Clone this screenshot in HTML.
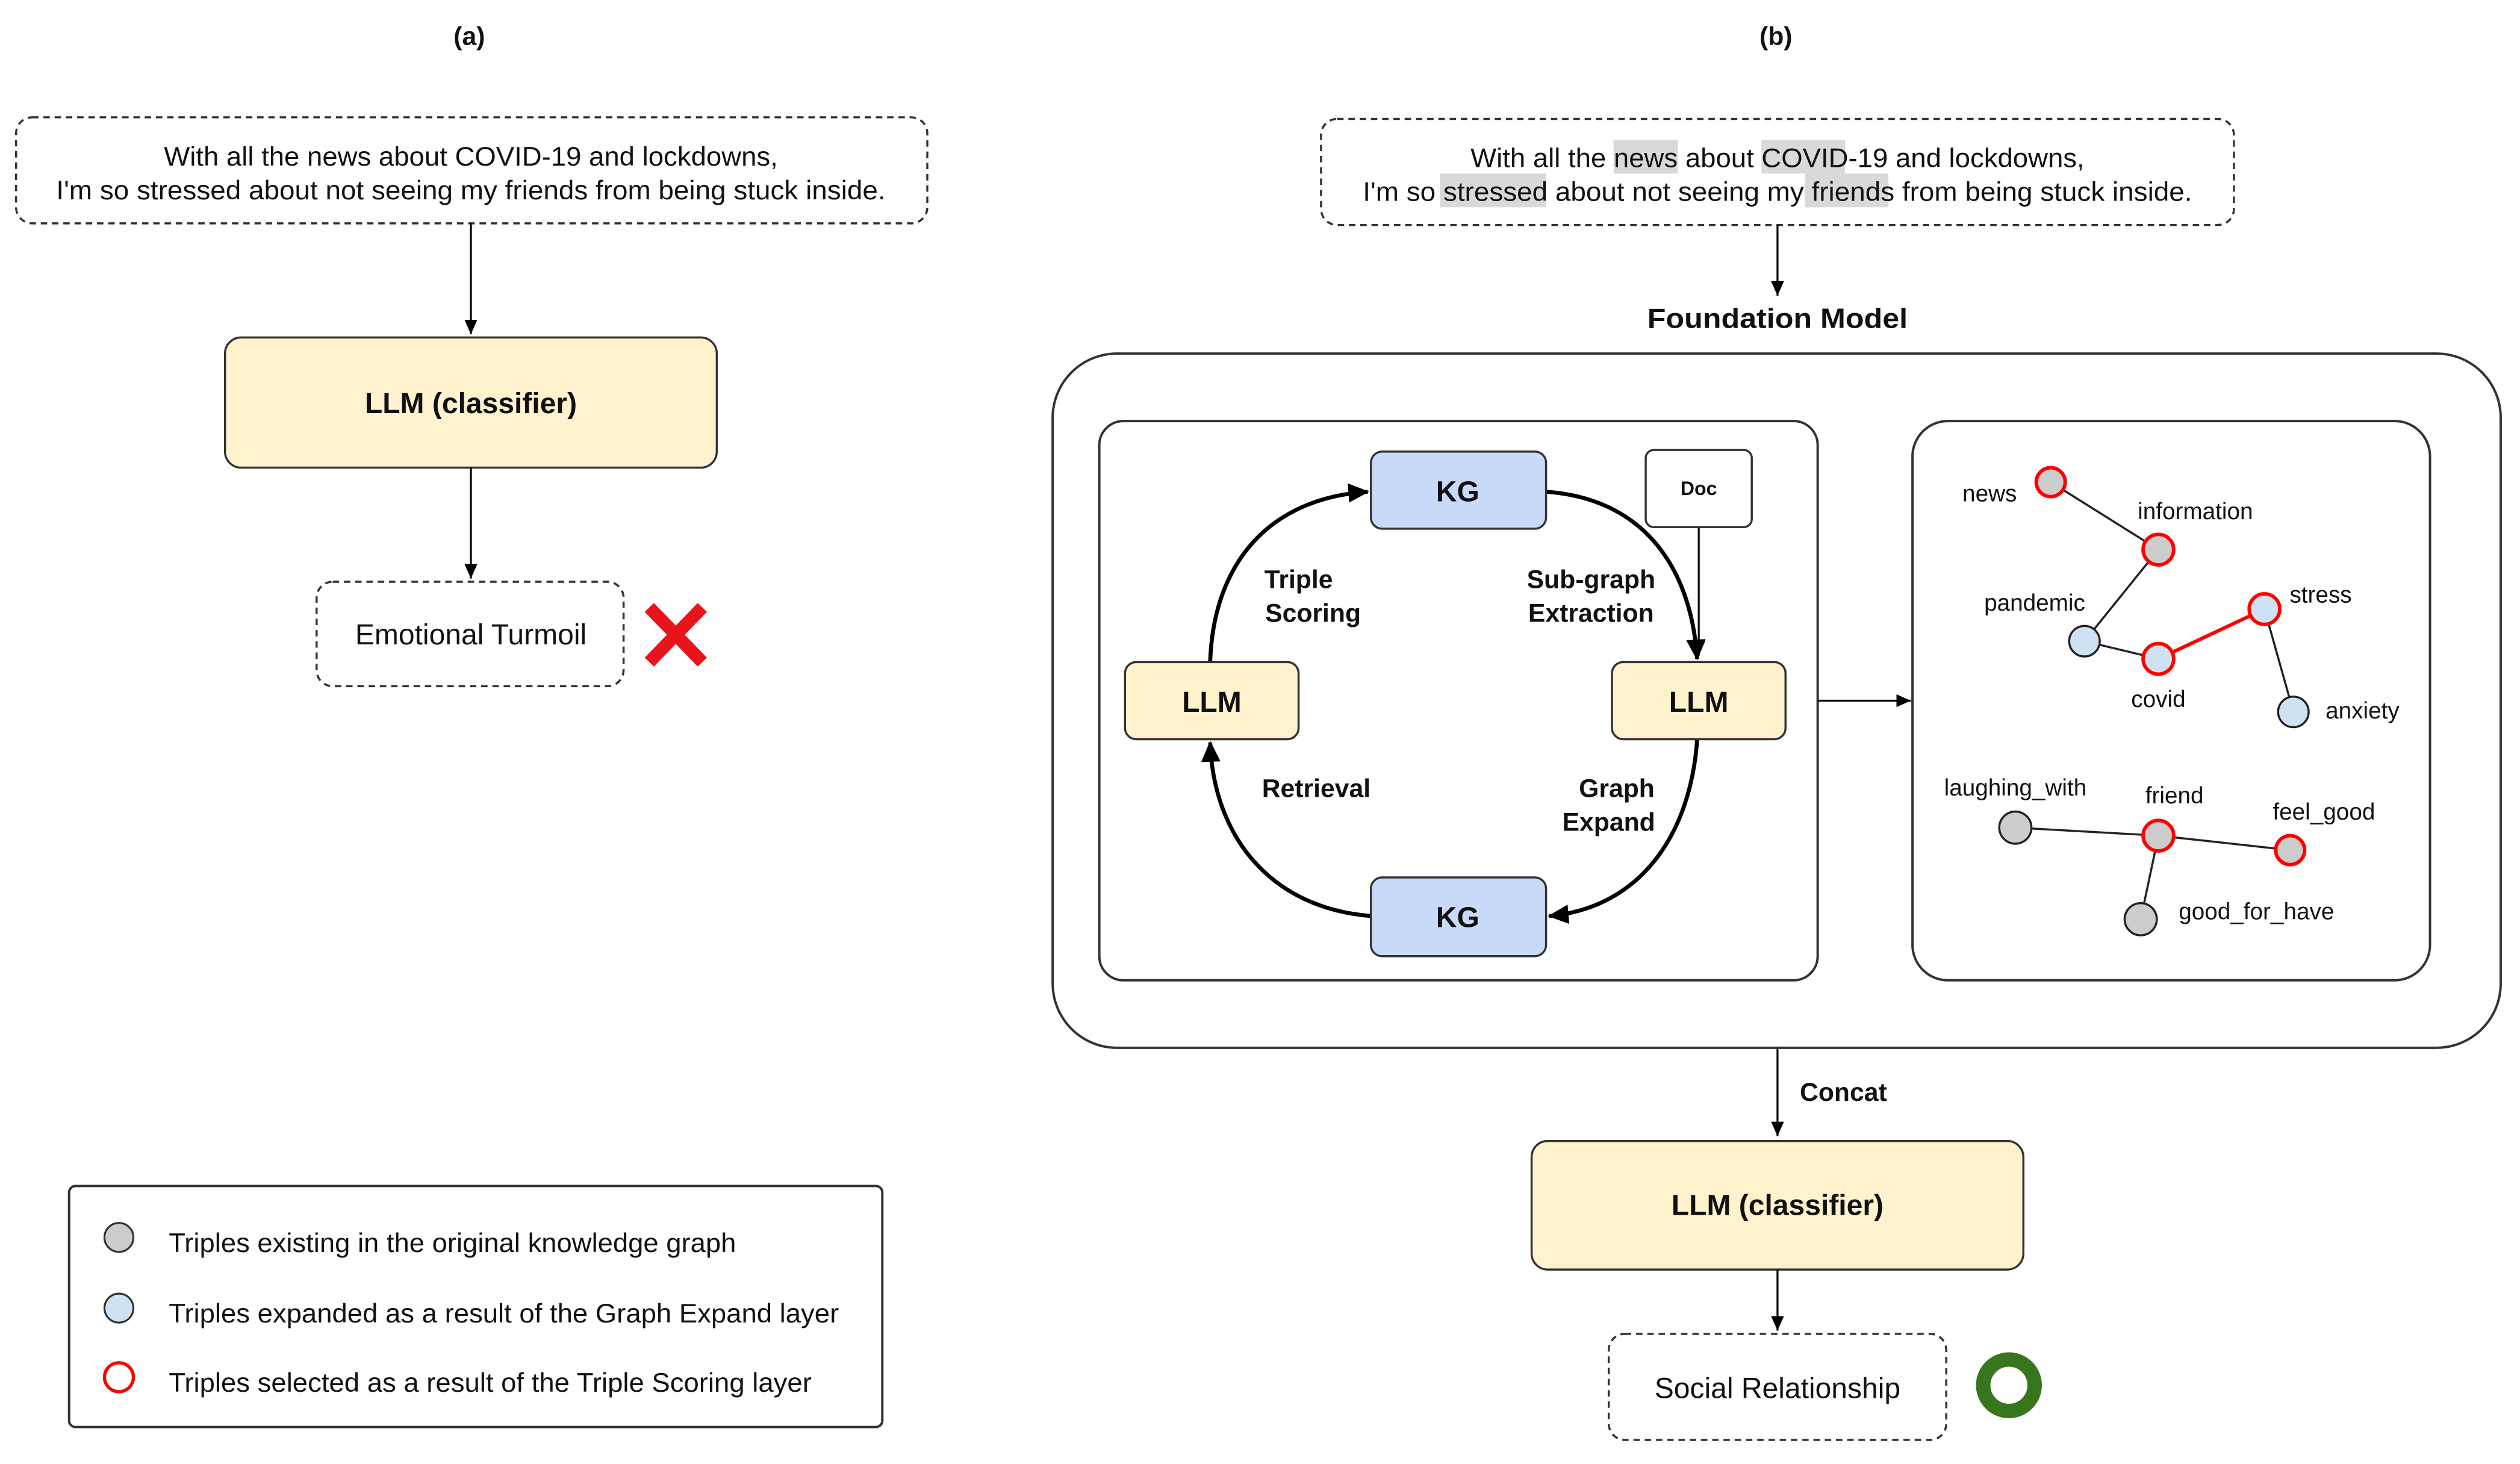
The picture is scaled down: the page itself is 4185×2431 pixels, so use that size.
<!DOCTYPE html>
<html><head><meta charset="utf-8"><style>
html,body{margin:0;padding:0;background:#fff}
svg{display:block}
text{font-family:"Liberation Sans",Arial,sans-serif;fill:#111}
.b{font-weight:bold}
</style></head><body>
<svg width="4185" height="2431" viewBox="0 0 1568 911" preserveAspectRatio="none" xmlns="http://www.w3.org/2000/svg">
<defs>
<marker id="ah" markerWidth="10" markerHeight="10" refX="9" refY="5" orient="auto" markerUnits="userSpaceOnUse">
<path d="M0,1 L9,5 L0,9 z" fill="#000"/></marker>
<marker id="ah2" markerWidth="14" markerHeight="14" refX="12" refY="7" orient="auto" markerUnits="userSpaceOnUse">
<path d="M0,1 L13,7 L0,13 z" fill="#000"/></marker>
</defs>
<rect width="1568" height="911" fill="#fff"/>
<!-- (a) -->
<text x="292" y="28" class="b" font-size="16" text-anchor="middle">(a)</text>
<rect x="10" y="73" width="567" height="66" rx="10" fill="#fff" stroke="#333" stroke-width="1.3" stroke-dasharray="4,3"/>
<text x="102" y="103" font-size="16.5" textLength="382" lengthAdjust="spacingAndGlyphs">With all the news about COVID-19 and lockdowns,</text>
<text x="35" y="124" font-size="16.5" textLength="516" lengthAdjust="spacingAndGlyphs">I'm so stressed about not seeing my friends  from being stuck inside.</text>
<line x1="293" y1="139" x2="293" y2="208" stroke="#000" stroke-width="1.2" marker-end="url(#ah)"/>
<rect x="140" y="210" width="306" height="81" rx="10" fill="#fff2cc" stroke="#333" stroke-width="1.3"/>
<text x="293" y="257" class="b" font-size="18" text-anchor="middle">LLM (classifier)</text>
<line x1="293" y1="291" x2="293" y2="360" stroke="#000" stroke-width="1.2" marker-end="url(#ah)"/>
<rect x="197" y="362" width="191" height="65" rx="10" fill="#fff" stroke="#333" stroke-width="1.3" stroke-dasharray="4,3"/>
<text x="293" y="401" font-size="18" text-anchor="middle">Emotional Turmoil</text>
<g stroke="#e8141c" stroke-width="8" stroke-linecap="butt"><line x1="404" y1="378" x2="437" y2="412"/><line x1="437" y1="378" x2="404" y2="412"/></g>
<!-- legend -->
<rect x="43" y="738" width="506" height="150" rx="4" fill="#fff" stroke="#333" stroke-width="1.5"/>
<circle cx="74" cy="770" r="9" fill="#cccccc" stroke="#333" stroke-width="1.2"/>
<circle cx="74" cy="814" r="9" fill="#cfe2f3" stroke="#333" stroke-width="1.2"/>
<circle cx="74" cy="857" r="9" fill="#fff" stroke="#f00" stroke-width="2"/>
<text x="105" y="779" font-size="16.5" textLength="353" lengthAdjust="spacingAndGlyphs">Triples existing in the original knowledge graph</text>
<text x="105" y="823" font-size="16.5" textLength="417" lengthAdjust="spacingAndGlyphs">Triples expanded as a result of the Graph Expand layer</text>
<text x="105" y="866" font-size="16.5" textLength="400" lengthAdjust="spacingAndGlyphs">Triples selected as a result of the Triple Scoring layer</text>
<!-- (b) -->
<text x="1105" y="28" class="b" font-size="16" text-anchor="middle">(b)</text>
<rect x="822" y="74" width="568" height="66" rx="10" fill="#fff" stroke="#333" stroke-width="1.3" stroke-dasharray="4,3"/>
<rect x="1004" y="87" width="40" height="21" fill="#d9d9d9"/>
<rect x="1096" y="87" width="52" height="21" fill="#d9d9d9"/>
<rect x="896" y="108" width="66" height="21" fill="#d9d9d9"/>
<rect x="1123" y="108" width="52" height="21" fill="#d9d9d9"/>
<text x="915" y="104" font-size="16.5" textLength="382" lengthAdjust="spacingAndGlyphs">With all the news about COVID-19 and lockdowns,</text>
<text x="848" y="125" font-size="16.5" textLength="516" lengthAdjust="spacingAndGlyphs">I'm so stressed about not seeing my friends  from being stuck inside.</text>
<line x1="1106" y1="140" x2="1106" y2="184" stroke="#000" stroke-width="1.2" marker-end="url(#ah)"/>
<text x="1106" y="204" class="b" font-size="17.5" text-anchor="middle" textLength="162" lengthAdjust="spacingAndGlyphs">Foundation Model</text>
<rect x="655" y="220" width="901" height="432" rx="40" fill="#fff" stroke="#333" stroke-width="1.5"/>
<rect x="684" y="262" width="447" height="348" rx="15" fill="#fff" stroke="#333" stroke-width="1.5"/>
<rect x="1190" y="262" width="322" height="348" rx="22" fill="#fff" stroke="#333" stroke-width="1.5"/>
<g fill="none" stroke="#000" stroke-width="2.5">
<path d="M962,306 C1020,310 1052,350 1056,410" marker-end="url(#ah2)"/>
<path d="M1056,460 C1052,520 1020,565 964,570" marker-end="url(#ah2)"/>
<path d="M853,570 C790,565 755,520 753,462" marker-end="url(#ah2)"/>
<path d="M753,412 C755,350 790,310 851,306" marker-end="url(#ah2)"/>
</g>
<line x1="1057" y1="328" x2="1057" y2="408" stroke="#000" stroke-width="1.2" marker-end="url(#ah)"/>
<rect x="853" y="281" width="109" height="48" rx="7" fill="#c9daf8" stroke="#333" stroke-width="1.3"/>
<text x="907" y="312" class="b" font-size="18" text-anchor="middle">KG</text>
<rect x="853" y="546" width="109" height="49" rx="7" fill="#c9daf8" stroke="#333" stroke-width="1.3"/>
<text x="907" y="577" class="b" font-size="18" text-anchor="middle">KG</text>
<rect x="1024" y="280" width="66" height="48" rx="5" fill="#fff" stroke="#333" stroke-width="1.3"/>
<text x="1057" y="308" class="b" font-size="12" text-anchor="middle">Doc</text>
<rect x="700" y="412" width="108" height="48" rx="7" fill="#fff2cc" stroke="#333" stroke-width="1.3"/>
<text x="754" y="443" class="b" font-size="18" text-anchor="middle">LLM</text>
<rect x="1003" y="412" width="108" height="48" rx="7" fill="#fff2cc" stroke="#333" stroke-width="1.3"/>
<text x="1057" y="443" class="b" font-size="18" text-anchor="middle">LLM</text>
<text x="808" y="366" class="b" font-size="16" text-anchor="middle">Triple</text>
<text x="817" y="387" class="b" font-size="16" text-anchor="middle">Scoring</text>
<text x="990" y="366" class="b" font-size="16" text-anchor="middle">Sub-graph</text>
<text x="990" y="387" class="b" font-size="16" text-anchor="middle">Extraction</text>
<text x="819" y="496" class="b" font-size="16" text-anchor="middle">Retrieval</text>
<text x="1006" y="496" class="b" font-size="16" text-anchor="middle">Graph</text>
<text x="1001" y="517" class="b" font-size="16" text-anchor="middle">Expand</text>
<line x1="1131" y1="436" x2="1189" y2="436" stroke="#000" stroke-width="1.2" marker-end="url(#ah)"/>
<g stroke="#222" stroke-width="1.3">
<line x1="1276" y1="300" x2="1343" y2="342"/>
<line x1="1343" y1="342" x2="1297" y2="399"/>
<line x1="1297" y1="399" x2="1343" y2="410"/>
<line x1="1409" y1="379" x2="1427" y2="443"/>
<line x1="1254" y1="515" x2="1343" y2="520"/>
<line x1="1343" y1="520" x2="1425" y2="529"/>
<line x1="1343" y1="520" x2="1332" y2="572"/>
</g>
<line x1="1343" y1="410" x2="1409" y2="379" stroke="#f00" stroke-width="2.2"/>
<g stroke-width="2.2">
<circle cx="1276" cy="300" r="9" fill="#cccccc" stroke="#f00"/>
<circle cx="1343" cy="342" r="9.5" fill="#cccccc" stroke="#f00"/>
<circle cx="1343" cy="410" r="9.5" fill="#cfe2f3" stroke="#f00"/>
<circle cx="1409" cy="379" r="9.5" fill="#cfe2f3" stroke="#f00"/>
<circle cx="1343" cy="520" r="9.5" fill="#cccccc" stroke="#f00"/>
<circle cx="1425" cy="529" r="9" fill="#cccccc" stroke="#f00"/>
</g>
<g stroke="#222" stroke-width="1.3">
<circle cx="1297" cy="399" r="9.5" fill="#cfe2f3"/>
<circle cx="1427" cy="443" r="9.5" fill="#cfe2f3"/>
<circle cx="1254" cy="515" r="10" fill="#cccccc"/>
<circle cx="1332" cy="572" r="10" fill="#cccccc"/>
</g>
<g font-size="14.5">
<text x="1238" y="312" text-anchor="middle">news</text>
<text x="1366" y="323" text-anchor="middle">information</text>
<text x="1266" y="380" text-anchor="middle">pandemic</text>
<text x="1343" y="440" text-anchor="middle">covid</text>
<text x="1444" y="375" text-anchor="middle">stress</text>
<text x="1470" y="447" text-anchor="middle">anxiety</text>
<text x="1254" y="495" text-anchor="middle">laughing_with</text>
<text x="1353" y="500" text-anchor="middle">friend</text>
<text x="1446" y="510" text-anchor="middle">feel_good</text>
<text x="1404" y="572" text-anchor="middle">good_for_have</text>
</g>
<line x1="1106" y1="652" x2="1106" y2="707" stroke="#000" stroke-width="1.2" marker-end="url(#ah)"/>
<text x="1147" y="685" class="b" font-size="16" text-anchor="middle">Concat</text>
<rect x="953" y="710" width="306" height="80" rx="10" fill="#fff2cc" stroke="#333" stroke-width="1.3"/>
<text x="1106" y="756" class="b" font-size="18" text-anchor="middle">LLM (classifier)</text>
<line x1="1106" y1="790" x2="1106" y2="828" stroke="#000" stroke-width="1.2" marker-end="url(#ah)"/>
<rect x="1001" y="830" width="210" height="66" rx="10" fill="#fff" stroke="#333" stroke-width="1.3" stroke-dasharray="4,3"/>
<text x="1106" y="870" font-size="18" text-anchor="middle">Social Relationship</text>
<circle cx="1250" cy="862" r="16" fill="none" stroke="#38761d" stroke-width="9"/>
</svg>
</body></html>
